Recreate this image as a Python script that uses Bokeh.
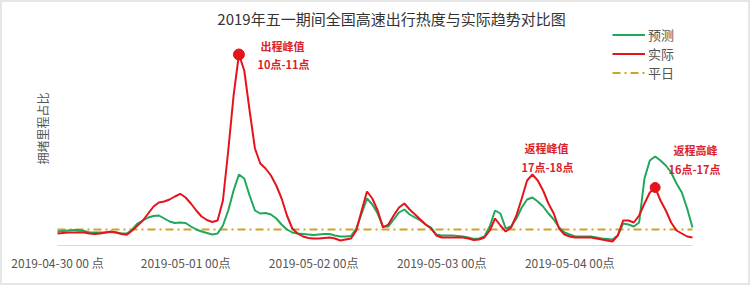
import math
from bokeh.plotting import figure
from bokeh.models import Range1d, Label, Legend, LegendItem, ColumnDataSource
from bokeh.core.properties import value
from bokeh.embed import file_html
from bokeh.resources import INLINE

# hours from 2019-04-30 00:00 to 2019-05-04 23:00
hours = list(range(120))

actual = [
    1.2, 1.25, 1.3, 1.3, 1.33, 1.3, 1.2, 1.15, 1.2, 1.3, 1.4, 1.3, 1.15, 1.07, 1.5, 2.0,
    2.5, 3.2, 3.9, 4.3, 4.4, 4.6, 4.9, 5.17,
    4.8, 4.2, 3.5, 2.9, 2.55, 2.35, 2.5, 4.5, 9.5, 15.0, 19.1, 17.5, 13.5, 9.7, 8.2, 7.7,
    7.0, 6.0, 4.7, 3.0, 1.7, 1.2, 0.9, 0.75,
    0.7, 0.7, 0.75, 0.8, 0.7, 0.5, 0.6, 0.7, 1.5, 3.5, 5.4, 4.7, 3.5, 1.8, 2.1, 3.0,
    3.8, 4.2, 3.6, 3.1, 2.6, 2.1, 1.7, 1.0,
    0.8, 0.8, 0.8, 0.8, 0.8, 0.7, 0.55, 0.6, 0.8, 1.5, 2.7, 2.0, 1.4, 1.8, 3.0, 4.7,
    6.5, 7.1, 6.5, 5.5, 4.2, 3.2, 1.7, 1.1,
    0.9, 0.8, 0.8, 0.8, 0.8, 0.7, 0.6, 0.5, 0.4, 1.0, 2.5, 2.5, 2.3, 3.0, 4.2, 5.3,
    5.8, 4.5, 3.5, 2.3, 1.5, 1.2, 0.9, 0.8,
]

forecast = [
    1.4, 1.45, 1.5, 1.55, 1.55, 1.45, 1.3, 1.3, 1.3, 1.3, 1.35, 1.3, 1.2, 1.2, 1.6, 2.2,
    2.5, 2.8, 2.95, 3.0, 2.7, 2.4, 2.25, 2.3,
    2.25, 1.9, 1.6, 1.4, 1.25, 1.1, 1.2, 2.0, 3.5, 5.5, 7.1, 6.7, 5.0, 3.5, 3.2, 3.25,
    3.1, 2.7, 2.1, 1.6, 1.3, 1.2, 1.15, 1.1,
    1.05, 1.1, 1.15, 1.15, 1.0, 0.9, 0.9, 0.95, 1.7, 3.2, 4.7, 4.1, 3.2, 1.9, 1.9, 2.6,
    3.3, 3.6, 3.1, 2.8, 2.5, 2.1, 1.8, 1.1,
    1.0, 1.0, 1.0, 0.95, 0.9, 0.8, 0.65, 0.7, 0.9, 1.9, 3.5, 3.2, 1.7, 1.9, 2.7, 3.8,
    4.6, 4.8, 4.4, 3.9, 3.2, 2.6, 1.8, 1.3,
    1.1, 0.9, 0.9, 0.9, 0.9, 0.8, 0.7, 0.65, 0.6, 1.0, 2.2, 2.1, 1.9, 2.3, 6.7, 8.5,
    8.9, 8.5, 8.0, 7.3, 6.2, 5.3, 3.7, 1.8,
]

weekday_level = 1.6
weekday = [weekday_level] * len(hours)

tick_hours = [0, 24, 48, 72, 96]
tick_labels = ["2019-04-30 00 点", "2019-05-01 00点", "2019-05-02 00点",
               "2019-05-03 00点", "2019-05-04 00点"]

peak_hours = [34, 112]

title_text = "2019年五一期间全国高速出行热度与实际趋势对比图"
y_label = "拥堵里程占比"
series_names = ["预测", "实际", "平日"]

GREEN = "#1fa85c"
RED = "#e5141c"
GOLD = "#cfa22a"
ANNO = "#d9232b"
FONT = "Noto Sans CJK SC"

# pixel geometry helpers (data span: x 57..692 px, baseline at 245 px, 10 px per unit)
X0, X1, Y0 = 57.0, 692.0, 245.0
SX = (X1 - X0) / 119.0
SY = 10.0


def px_x(px):
    return (px - X0) / SX


def px_y(py):
    return (Y0 - py) / SY


p = figure(width=750, height=285, output_backend="svg", toolbar_location=None,
           x_range=Range1d(px_x(0), px_x(750)), y_range=Range1d(px_y(285), px_y(0)),
           x_axis_type=None, y_axis_type=None,
           min_border_left=0, min_border_right=0, min_border_top=0, min_border_bottom=0)
p.outline_line_color = "#e6e6e6"
p.outline_line_width = 3
p.xgrid.visible = False
p.ygrid.visible = False
p.background_fill_color = "white"
p.border_fill_color = "white"

# x axis line and tick labels
p.segment(x0=[hours[0]], y0=[0], x1=[hours[-1]], y1=[0], line_color="#d9d9d9", line_width=1)
p.text(x=tick_hours, y=[px_y(262)] * len(tick_hours), text=tick_labels,
       text_align="center", text_baseline="middle", text_font=value(FONT),
       text_font_size="12px", text_color="#555555")

src = ColumnDataSource(dict(h=hours, actual=actual, forecast=forecast, weekday=weekday))

r_w = p.line("h", "weekday", source=src, line_color=GOLD, line_width=2, line_dash="8 4 2 4")
r_f = p.line("h", "forecast", source=src, line_color=GREEN, line_width=2)
r_a = p.line("h", "actual", source=src, line_color=RED, line_width=2)

p.scatter([peak_hours[0]], [actual[peak_hours[0]]], size=11, color=RED)
p.scatter([peak_hours[1]], [actual[peak_hours[1]]], size=10, color=RED)

legend = Legend(items=[LegendItem(label=series_names[0], renderers=[r_f]),
                       LegendItem(label=series_names[1], renderers=[r_a]),
                       LegendItem(label=series_names[2], renderers=[r_w])],
                location=(612, 203))
legend.background_fill_alpha = 0
legend.border_line_color = None
legend.margin = 0
legend.padding = 0
legend.spacing = 0
legend.glyph_width = 33
legend.glyph_height = 17
legend.label_height = 17
legend.label_standoff = 3
legend.label_text_font = FONT
legend.label_text_font_size = "13px"
legend.label_text_color = "#555555"
p.add_layout(legend)

p.add_layout(Label(x=px_x(391), y=px_y(18), text=title_text, text_align="center",
                   text_baseline="middle", text_font=FONT, text_font_size="15px",
                   text_color="#333333"))
p.add_layout(Label(x=px_x(42), y=px_y(128), text=y_label, angle=math.pi / 2,
                   text_align="center", text_baseline="middle", text_font=FONT,
                   text_font_size="12px", text_color="#555555"))

annos = [("出程峰值", 282, 45), ("10点-11点", 283, 63),
         ("返程峰值", 546, 147), ("17点-18点", 547, 166),
         ("返程高峰", 695, 149), ("16点-17点", 694, 168)]
for t, ax, ay in annos:
    p.add_layout(Label(x=px_x(ax), y=px_y(ay), text=t, text_align="center",
                       text_baseline="middle", text_font=FONT, text_font_size="11px",
                       text_font_style="bold", text_color=ANNO))

open("out.html", "w").write(file_html(p, INLINE))
